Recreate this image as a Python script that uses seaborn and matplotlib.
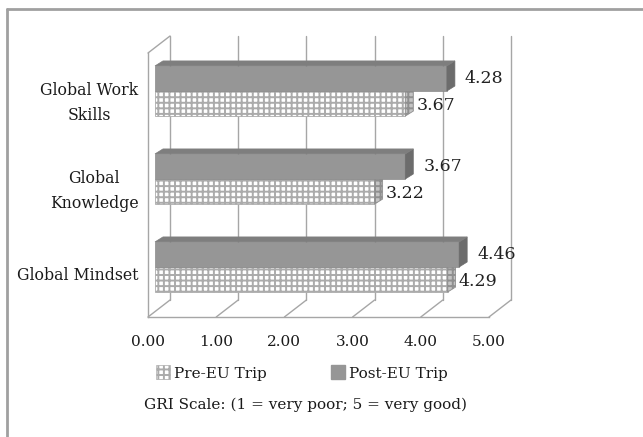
import pandas as pd
import seaborn as sns
import matplotlib
matplotlib.use("Agg")
from matplotlib import pyplot as plt
from matplotlib.patches import Polygon, Patch
from matplotlib.lines import Line2D

# ------------------------------------------------- #
# data
categories = ["Global Work\nSkills", "Global\nKnowledge", "Global Mindset"]
pre_trip = [3.67, 3.22, 4.29]
post_trip = [4.28, 3.67, 4.46]
series_names = ["Pre-EU Trip", "Post-EU Trip"]
x_ticks = [0, 1, 2, 3, 4, 5]
x_tick_labels = ["0.00", "1.00", "2.00", "3.00", "4.00", "5.00"]
footer = "GRI Scale: (1 = very poor; 5 = very good)"
# ------------------------------------------------- #

sns.set_style("white")
plt.rcParams["font.family"] = ["DejaVu Serif"]
plt.rcParams["hatch.linewidth"] = 1.4

df = pd.DataFrame({
    "Category": categories * 2,
    "Trip": [series_names[0]] * 3 + [series_names[1]] * 3,
    "Score": pre_trip + post_trip,
})

W, H = 643, 437
fig = plt.figure(figsize=(W / 100, H / 100), dpi=100)
ax = fig.add_axes([148 / W, (H - 317) / H, (489 - 148) / W, (317 - 53) / H])

hue_order = [series_names[1], series_names[0]]   # post on top, pre below
sns.barplot(data=df, y="Category", x="Score", hue="Trip", hue_order=hue_order,
            order=categories, orient="h", width=0.57, dodge=True,
            palette=["#969696", "white"], legend=False, ax=ax, zorder=3)

ax.set_xlim(0, 5)
ax.set_ylim(2.5, -0.5)

# depth of the 3d box and of the bars, in data units
px_x = 5 / (489 - 148)
px_y = 3 / (317 - 53)
DX, DY = 22 * px_x, 17 * px_y      # wall depth
BX, BY = 7 * px_x, 6 * px_y        # bar offset from the front
DDX, DDY = 8 * px_x, 5 * px_y      # bar depth

grid_col = "#a6a6a6"
hatch_col = "#ababab"
# back wall grid lines and floor diagonals
for k in x_ticks:
    ax.plot([k + DX, k + DX], [2.5 - DY, -0.5 - DY], color=grid_col, lw=1, clip_on=False, zorder=0)
    ax.plot([k, k + DX], [2.5, 2.5 - DY], color=grid_col, lw=1, clip_on=False, zorder=0)
# left wall top diagonal
ax.plot([0, DX], [-0.5, -0.5 - DY], color=grid_col, lw=1, clip_on=False, zorder=0)

# bars: shift and add depth faces
for cont, name in zip(ax.containers, hue_order):
    for p in cont.patches:
        x0, y0, w, h = p.get_x(), p.get_y(), p.get_width(), p.get_height()
        p.set_x(x0 + BX)
        p.set_y(y0 - BY)
        x0, y0 = x0 + BX, y0 - BY
        x1, y1 = x0 + w, y0 + h
        side = [(x1, y0), (x1 + DDX, y0 - DDY), (x1 + DDX, y1 - DDY), (x1, y1)]
        top = [(x0, y0), (x0 + DDX, y0 - DDY), (x1 + DDX, y0 - DDY), (x1, y0)]
        if name == series_names[1]:
            p.set_facecolor("#969696")
            p.set_edgecolor("#8a8a8a")
            p.set_linewidth(0.5)
            p.set_zorder(4)
            ax.add_patch(Polygon(side, closed=True, fc="#6c6c6c", ec="#6c6c6c", lw=0.5, zorder=4, clip_on=False))
            ax.add_patch(Polygon(top, closed=True, fc="#7e7e7e", ec="#7e7e7e", lw=0.5, zorder=4, clip_on=False))
            ax.text(x1 + DDX + 10 * px_x, (y0 + y1) / 2, f"{w:.2f}", ha="left", va="center",
                    fontsize=12.5, color="#222222", zorder=6)
        else:
            p.set_facecolor("white")
            p.set_edgecolor(hatch_col)
            p.set_hatch("+++")
            p.set_linewidth(0.6)
            p.set_zorder(3)
            ax.add_patch(Polygon(side, closed=True, fc="#c4c4c4", ec="#8f8f8f", hatch="+++",
                                 lw=0.6, zorder=3, clip_on=False))
            ax.text(x1 + DDX + 3 * px_x, (y0 + y1) / 2 + 2 * px_y, f"{w:.2f}", ha="left", va="center",
                    fontsize=12.5, color="#222222", zorder=6)
        p.set_clip_on(False)

# axes frame: only front left and bottom edges
for s in ["top", "right"]:
    ax.spines[s].set_visible(False)
for s in ["left", "bottom"]:
    ax.spines[s].set_color(grid_col)
    ax.spines[s].set_linewidth(1)
ax.set_xticks(x_ticks)
ax.set_xticklabels(x_tick_labels)
ax.set_yticks([-0.5, 0.5, 1.5, 2.5], minor=True)
ax.tick_params(axis="y", which="major", length=0, pad=7, labelsize=11.3, labelcolor="#1a1a1a")
ax.tick_params(axis="y", which="minor", length=5, color=grid_col, width=1)
ax.tick_params(axis="x", length=4, color=grid_col, width=1, pad=9, labelsize=11, labelcolor="#1a1a1a")
for lab in ax.get_yticklabels():
    lab.set_multialignment("center")
    lab.set_linespacing(1.6)
ax.set_xlabel("")
ax.set_ylabel("")
ax.grid(False)

# legend
handles = [Patch(fc="white", ec=hatch_col, hatch="+++", lw=0.5),
           Patch(fc="#969696", ec="#969696")]
fig.legend(handles, series_names, loc="center", bbox_to_anchor=(302 / W, (H - 373) / H),
           ncol=2, frameon=False, fontsize=11, handlelength=0.9, handleheight=1.0,
           handletextpad=0.3, columnspacing=4.2, labelcolor="#1a1a1a")

fig.text(306 / W, (H - 405) / H, footer, ha="center", va="center", fontsize=11, color="#1a1a1a")

# outer frame (top and left edges only visible)
fig.add_artist(Line2D([7 / W, 1], [(H - 9) / H, (H - 9) / H], color="#a0a0a0", lw=2, transform=fig.transFigure))
fig.add_artist(Line2D([7 / W, 7 / W], [0, (H - 9) / H], color="#a0a0a0", lw=2, transform=fig.transFigure))

fig.savefig("out.png", dpi=100)
